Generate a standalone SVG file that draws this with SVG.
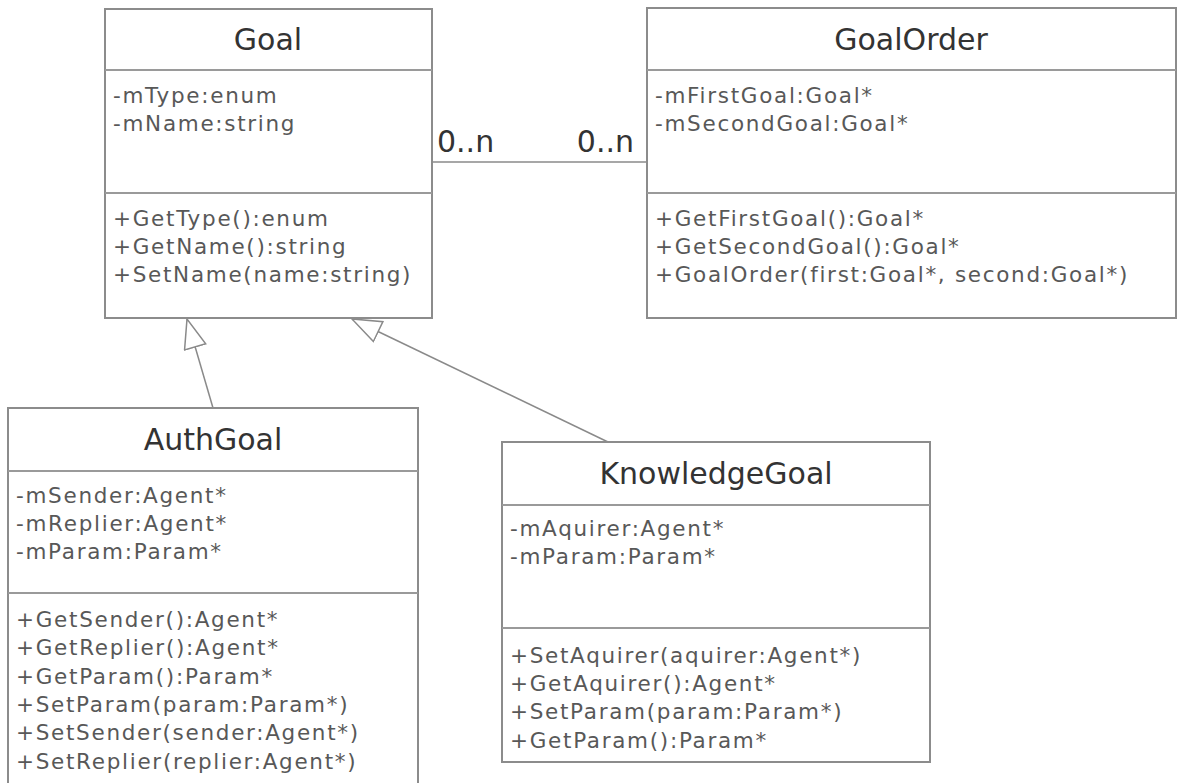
<svg xmlns="http://www.w3.org/2000/svg" width="1186" height="783" viewBox="0 0 1186 783">
  <style>
    .box { fill: #ffffff; stroke: #8c8c8c; stroke-width: 2; }
    .sep { stroke: #9a9a9a; stroke-width: 2; }
    .title { font-family: "DejaVu Sans", Verdana, sans-serif; font-size: 30px; fill: #333333; text-anchor: middle; }
    .item { font-family: "DejaVu Sans", Verdana, sans-serif; font-size: 21.5px; fill: #585858; letter-spacing: 1.7px; }
    .mult { font-family: "DejaVu Sans", Verdana, sans-serif; font-size: 30px; fill: #333333; }
    .conn { stroke: #8a8a8a; stroke-width: 1.5; fill: none; }
  </style>
  <defs>
    <!-- hollow triangle for generalization -->
    <marker id="inherit" markerUnits="userSpaceOnUse" markerWidth="32" markerHeight="26" refX="30" refY="12" orient="auto">
      <path d="M1,1 L30,12 L1,23 Z" fill="#ffffff" stroke="#8a8a8a" stroke-width="1.5"/>
    </marker>
  </defs>

  <g id="connectors">
    <!-- association Goal 0..n — 0..n GoalOrder -->
    <line class="conn" x1="432" y1="162" x2="523" y2="162" stroke="#a8a8a8"/>
    <line class="conn" x1="523" y1="162" x2="647" y2="162"/>
    <text class="mult" x="437" y="152">0..n</text>
    <text class="mult" x="634" y="152" text-anchor="end">0..n</text>
    <!-- generalizations -->
    <line class="conn" x1="213" y1="408" x2="187" y2="319" marker-end="url(#inherit)"/>
    <line class="conn" x1="608" y1="442" x2="352" y2="319" marker-end="url(#inherit)"/>
  </g>

  <g id="Goal">
    <rect class="box" x="105" y="9" width="327" height="309"/>
    <line class="sep" x1="105" y1="70" x2="432" y2="70"/>
    <line class="sep" x1="105" y1="193" x2="432" y2="193"/>
    <text class="title" x="268" y="50">Goal</text>
    <text class="item" x="113" y="103">-mType:enum</text>
    <text class="item" x="113" y="131">-mName:string</text>
    <text class="item" x="113" y="226">+GetType():enum</text>
    <text class="item" x="113" y="254">+GetName():string</text>
    <text class="item" x="113" y="282">+SetName(name:string)</text>
  </g>

  <g id="GoalOrder">
    <rect class="box" x="647" y="8" width="529" height="310"/>
    <line class="sep" x1="647" y1="70" x2="1176" y2="70"/>
    <line class="sep" x1="647" y1="193" x2="1176" y2="193"/>
    <text class="title" x="911" y="50">GoalOrder</text>
    <text class="item" x="655" y="103">-mFirstGoal:Goal*</text>
    <text class="item" x="655" y="131">-mSecondGoal:Goal*</text>
    <text class="item" x="655" y="226">+GetFirstGoal():Goal*</text>
    <text class="item" x="655" y="254">+GetSecondGoal():Goal*</text>
    <text class="item" x="655" y="282">+GoalOrder(first:Goal*, second:Goal*)</text>
  </g>

  <g id="AuthGoal">
    <rect class="box" x="8" y="408" width="410" height="400"/>
    <line class="sep" x1="8" y1="471" x2="418" y2="471"/>
    <line class="sep" x1="8" y1="593" x2="418" y2="593"/>
    <text class="title" x="213" y="450">AuthGoal</text>
    <text class="item" x="16" y="503">-mSender:Agent*</text>
    <text class="item" x="16" y="531">-mReplier:Agent*</text>
    <text class="item" x="16" y="559">-mParam:Param*</text>
    <text class="item" x="16" y="627">+GetSender():Agent*</text>
    <text class="item" x="16" y="655">+GetReplier():Agent*</text>
    <text class="item" x="16" y="684">+GetParam():Param*</text>
    <text class="item" x="16" y="712">+SetParam(param:Param*)</text>
    <text class="item" x="16" y="740">+SetSender(sender:Agent*)</text>
    <text class="item" x="16" y="769">+SetReplier(replier:Agent*)</text>
  </g>

  <g id="KnowledgeGoal">
    <rect class="box" x="502" y="442" width="428" height="320"/>
    <line class="sep" x1="502" y1="505" x2="930" y2="505"/>
    <line class="sep" x1="502" y1="628" x2="930" y2="628"/>
    <text class="title" x="716" y="484">KnowledgeGoal</text>
    <text class="item" x="510" y="536">-mAquirer:Agent*</text>
    <text class="item" x="510" y="564">-mParam:Param*</text>
    <text class="item" x="510" y="663">+SetAquirer(aquirer:Agent*)</text>
    <text class="item" x="510" y="691">+GetAquirer():Agent*</text>
    <text class="item" x="510" y="719">+SetParam(param:Param*)</text>
    <text class="item" x="510" y="748">+GetParam():Param*</text>
  </g>
</svg>
